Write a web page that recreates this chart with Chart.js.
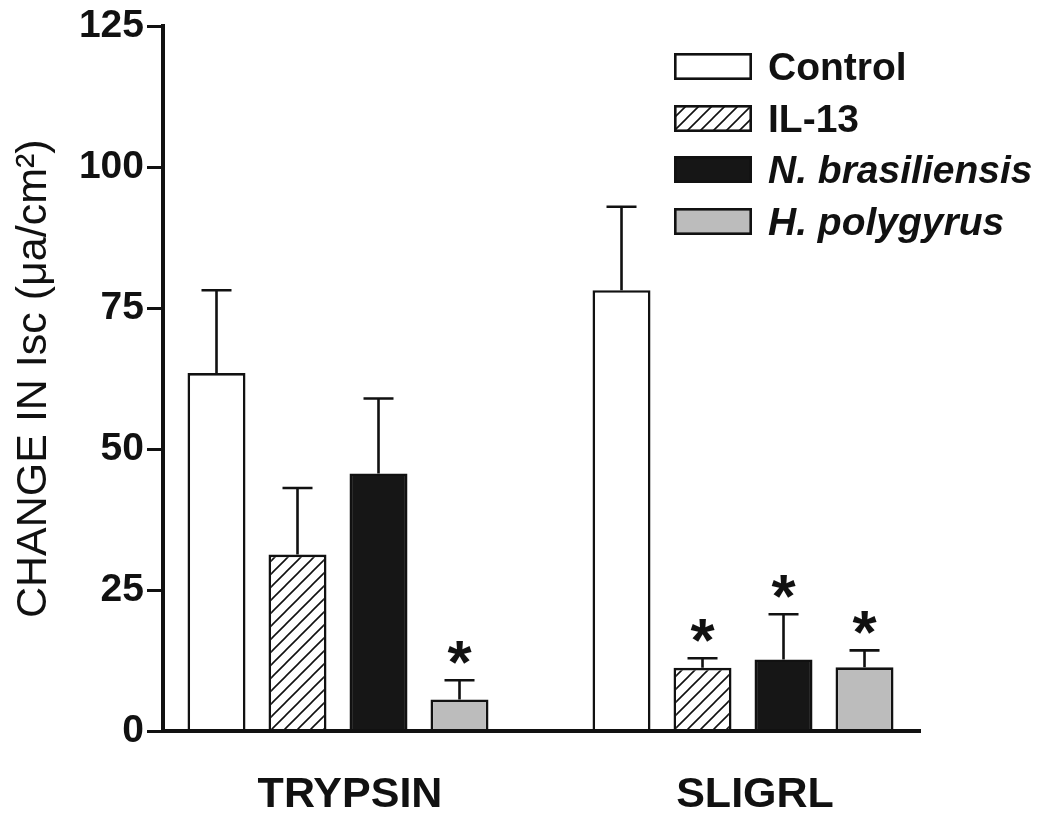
<!DOCTYPE html>
<html><head><meta charset="utf-8">
<script src="https://cdn.jsdelivr.net/npm/chart.js@4"></script>
<style>
html,body{margin:0;padding:0;background:#fff;}
#wrap{position:relative;width:1050px;height:818px;}
#legend{position:absolute;left:674px;top:41px;font-family:"Liberation Sans",Arial,sans-serif;font-weight:bold;font-size:39px;color:#111;}
.row{display:flex;align-items:center;height:51.5px;}
.row canvas{display:block;}
.row span{margin-left:16px;line-height:1;white-space:nowrap;}
</style></head><body>
<div id="wrap"><canvas id="c" width="1050" height="818"></canvas><div id="legend"></div></div>
<script>
// ---- data ----
const categories = ['TRYPSIN', 'SLIGRL'];
const seriesNames = ['Control', 'IL-13', 'N. brasiliensis', 'H. polygyrus'];
const controlValues = [63.5, 78.2];
const il13Values = [31.3, 11.2];
const nbrasValues = [45.7, 12.7];
const hpolyValues = [5.6, 11.3];
const controlErrors = [14.7, 14.8];
const il13Errors = [11.8, 1.7];
const nbrasErrors = [13.3, 8.0];
const hpolyErrors = [3.4, 3.0];
const controlSig = [false, false];
const il13Sig = [false, true];
const nbrasSig = [false, true];
const hpolySig = [true, true];
const yTicks = [0, 25, 50, 75, 100, 125];
const yTitle = 'CHANGE IN Isc (\u03bca/cm\u00b2)';

const FONT = '"Liberation Sans", Arial, Helvetica, sans-serif';
const INK = '#111111';

// hatch pattern for IL-13
function makeHatch() {
  const s = 13;
  const cv = document.createElement('canvas');
  cv.width = s; cv.height = s;
  const g = cv.getContext('2d');
  g.fillStyle = '#ffffff'; g.fillRect(0, 0, s, s);
  g.strokeStyle = INK; g.lineWidth = 1.6;
  g.beginPath();
  g.moveTo(-1, s + 1); g.lineTo(s + 1, -1);
  g.moveTo(-2, 2); g.lineTo(2, -2);
  g.moveTo(s - 2, s + 2); g.lineTo(s + 2, s - 2);
  g.stroke();
  return g.createPattern(cv, 'repeat');
}
const hatch = makeHatch();

function pts(vals) { return vals.map((v, i) => ({x: i, y: v})); }

const datasets = [
  {label: seriesNames[0], data: pts(controlValues), errors: controlErrors, sig: controlSig, backgroundColor: '#ffffff', italic: false},
  {label: seriesNames[1], data: pts(il13Values), errors: il13Errors, sig: il13Sig, backgroundColor: hatch, italic: false},
  {label: seriesNames[2], data: pts(nbrasValues), errors: nbrasErrors, sig: nbrasSig, backgroundColor: '#161616', italic: true},
  {label: seriesNames[3], data: pts(hpolyValues), errors: hpolyErrors, sig: hpolySig, backgroundColor: '#bcbcbc', italic: true}
].map(d => Object.assign(d, {borderColor: INK, borderWidth: 2.6, categoryPercentage: 0.8, barPercentage: 0.716}));

const errorBars = {
  id: 'errorBars',
  afterDatasetsDraw(chart) {
    const ctx = chart.ctx, y = chart.scales.y;
    ctx.save();
    chart.data.datasets.forEach((ds, di) => {
      const meta = chart.getDatasetMeta(di);
      meta.data.forEach((bar, i) => {
        const v = ds.data[i].y, e = ds.errors[i];
        const yTop = y.getPixelForValue(v + e);
        ctx.strokeStyle = INK; ctx.lineWidth = 2.6;
        ctx.beginPath();
        ctx.moveTo(bar.x, bar.y);
        ctx.lineTo(bar.x, yTop);
        ctx.moveTo(bar.x - 15, yTop);
        ctx.lineTo(bar.x + 15, yTop);
        ctx.stroke();
        if (ds.sig[i]) {
          const fs = 62;
          ctx.fillStyle = INK;
          ctx.font = 'bold ' + fs + 'px ' + FONT;
          ctx.textAlign = 'center';
          ctx.textBaseline = 'alphabetic';
          ctx.fillText('*', bar.x, yTop - 33 + 0.58 * fs);
        }
      });
    });
    ctx.restore();
  }
};

const htmlLegend = {
  id: 'htmlLegend',
  afterUpdate(chart) {
    const box = document.getElementById('legend');
    box.innerHTML = '';
    chart.data.datasets.forEach(ds => {
      const row = document.createElement('div');
      row.className = 'row';
      const sw = document.createElement('canvas');
      sw.width = 78; sw.height = 27;
      const g = sw.getContext('2d');
      g.fillStyle = ds.backgroundColor; g.fillRect(0, 0, 78, 27);
      g.strokeStyle = ds.borderColor; g.lineWidth = 2.6;
      g.strokeRect(1.3, 1.3, 78 - 2.6, 27 - 2.6);
      const t = document.createElement('span');
      t.textContent = ds.label;
      if (ds.italic) t.style.fontStyle = 'italic';
      row.appendChild(sw); row.appendChild(t);
      box.appendChild(row);
    });
  }
};

new Chart(document.getElementById('c'), {
  type: 'bar',
  data: {datasets},
  plugins: [errorBars, htmlLegend],
  options: {
    responsive: false,
    animation: false,
    devicePixelRatio: 1,
    layout: {padding: {top: 26, right: 130, bottom: 0, left: 0}},
    plugins: {legend: {display: false}, tooltip: {enabled: false}},
    scales: {
      x: {
        type: 'linear',
        offset: false,
        bounds: 'ticks',
        min: -0.4321,
        max: 1.437,
        afterBuildTicks(s) { s.ticks = categories.map((c, i) => ({value: i})); },
        afterFit(s) { s.height = 87; },
        grid: {display: false, offset: false},
        border: {display: true, color: INK, width: 4, z: 1},
        ticks: {
          autoSkip: false, maxRotation: 0, minRotation: 0, padding: 30, labelOffset: 12,
          color: INK, font: {family: FONT, size: 43, weight: 'bold'},
          callback: (v, i) => categories[i]
        }
      },
      y: {
        min: 0, max: 125,
        afterBuildTicks(s) { s.ticks = yTicks.map(v => ({value: v})); },
        afterFit(s) { s.width = 163; },
        grid: {display: true, drawOnChartArea: false, drawTicks: true, tickLength: 16, lineWidth: 3, color: INK},
        border: {display: true, color: INK, width: 4, z: 1},
        ticks: {padding: 3, color: INK, font: {family: FONT, size: 39, weight: 'bold'}},
        title: {display: true, text: yTitle, color: INK, font: {family: FONT, size: 43, weight: 'normal'}, padding: {top: 8, bottom: 0}}
      }
    }
  }
});
</script>
</body></html>
